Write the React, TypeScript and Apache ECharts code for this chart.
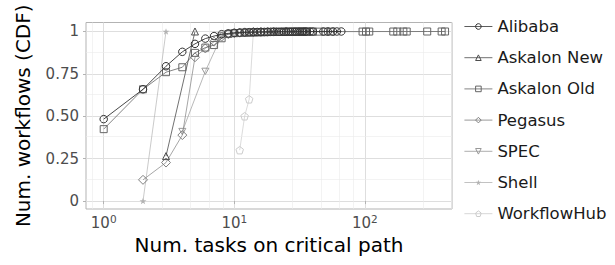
import React, { useEffect, useRef } from "react";
import * as echarts from "echarts";

const seriesNames = ["Alibaba", "Askalon New", "Askalon Old", "Pegasus", "SPEC", "Shell", "WorkflowHub"];
const greys = ["#333333", "#4d4d4d", "#666666", "#808080", "#999999", "#b3b3b3", "#cccccc"];

const alibabaX = [1, 2, 3, 4, 5, 6, 7, 8, 9, 10, 11, 12, 13, 14, 15, 16, 17, 18, 19, 20, 21, 22, 23, 24, 25, 26, 27, 28, 29, 30, 31, 32, 33, 34, 35, 36, 38, 40, 48, 52, 57, 61, 66];
const alibabaY = [0.483, 0.659, 0.795, 0.88, 0.927, 0.958, 0.973, 0.984, 0.989, 0.992, 0.994, 0.995, 0.996, 0.9965, 0.997, 0.9972, 0.9975, 0.9977, 0.998, 0.9982, 0.9984, 0.9985, 0.9986, 0.9987, 0.9988, 0.9989, 0.999, 0.9991, 0.9992, 0.9993, 0.9993, 0.9994, 0.9994, 0.9995, 0.9995, 0.9996, 0.9996, 0.9997, 0.9997, 0.9998, 0.9998, 0.9999, 1];

const askalonNewX = [3, 5];
const askalonNewY = [0.265, 1];

const askalonOldX = [1, 2, 3, 4, 5, 6, 7, 8, 9, 10, 11, 12, 13, 14, 15, 16, 17, 18, 19, 20, 22, 24, 26, 28, 30, 33, 36, 40, 44, 50, 55, 96, 102, 108, 165, 177, 197, 209, 300, 387, 411];
const askalonOldY = [0.424, 0.659, 0.76, 0.789, 0.874, 0.905, 0.92, 0.96, 0.985, 0.99, 0.991, 0.992, 0.993, 0.994, 0.995, 0.9955, 0.996, 0.9965, 0.997, 0.9972, 0.9975, 0.9978, 0.998, 0.9982, 0.9984, 0.9986, 0.9988, 0.999, 0.9991, 0.9992, 0.9993, 0.9994, 0.9995, 0.9996, 0.9997, 0.9997, 0.9998, 0.9998, 0.9999, 0.9999, 1];

const pegasusX = [2, 3, 4, 5, 6, 7, 8, 9, 10, 11, 12, 14, 16, 18, 20, 25];
const pegasusY = [0.125, 0.227, 0.389, 0.848, 0.9, 0.94, 0.97, 0.985, 0.99, 0.993, 0.995, 0.997, 0.998, 0.999, 0.9995, 1];

const specX = [4, 6, 8, 10, 12, 15, 20];
const specY = [0.41, 0.765, 0.975, 0.99, 0.995, 0.998, 1];

const shellX = [2, 3];
const shellY = [0, 1];

const workflowHubX = [11, 12, 13, 14];
const workflowHubY = [0.3, 0.5, 0.6, 1];

const xTickValues = [1, 10, 100];
const xTickExponents = ["0", "1", "2"];
const xMinorGrid = [0.82, 2.8, 4.6, 6.4, 8.2, 28, 46, 64, 82, 280, 460];
const yTickValues = [0, 0.25, 0.5, 0.75, 1];
const yTickLabels = ["0", "0.25", "0.50", "0.75", "1"];
const yMinorGrid = [0.125, 0.375, 0.625, 0.875];

const FONT = "DejaVu Sans";

const symbols = [
  "circle",
  "triangle",
  "rect",
  "diamond",
  "path://M0,0 L10,0 L5,9 Z",
  "path://M5,0 L6.2,3.6 L10,3.6 L6.9,5.8 L8.1,9.5 L5,7.2 L1.9,9.5 L3.1,5.8 L0,3.6 L3.8,3.6 Z",
  "path://M5,0 L10,3.8 L8.1,10 L1.9,10 L0,3.8 Z",
];
const symbolSizes = [7.5, 7, 7, 9, 7, 7, 7.5];
const filled = [false, false, false, false, false, true, false];
const lineWidths = [0.9, 0.8, 0.8, 0.7, 0.7, 0.7, 0.7];

const xs = [alibabaX, askalonNewX, askalonOldX, pegasusX, specX, shellX, workflowHubX];
const ys = [alibabaY, askalonNewY, askalonOldY, pegasusY, specY, shellY, workflowHubY];

function markerStyle(i: number) {
  return filled[i]
    ? { color: greys[i], borderWidth: 0 }
    : { color: "rgba(255,255,255,0)", borderColor: greys[i], borderWidth: 1 };
}

export default function App() {
  const ref = useRef<HTMLDivElement>(null);
  useEffect(() => {
    if (!ref.current) return;
    const chart = echarts.init(ref.current, undefined, { renderer: "svg" });
    const dataSeries = seriesNames.map((name, i) => ({
      name,
      type: "line",
      data: xs[i].map((x, j) => [x, ys[i][j]]),
      symbol: symbols[i],
      symbolSize: symbolSizes[i],
      symbolKeepAspect: true,
      showSymbol: true,
      lineStyle: { color: greys[i], width: lineWidths[i] },
      itemStyle: markerStyle(i),
      z: 10 - i,
    }));
    const gridSeries = {
      name: "__grid",
      type: "line",
      data: [],
      silent: true,
      z: 1,
      markLine: {
        silent: true,
        symbol: ["none", "none"],
        label: { show: false },
        lineStyle: { color: "#ebebeb", width: 0.6, type: "solid" },
        data: [
          ...xMinorGrid.map((v) => ({ xAxis: v })),
          ...yMinorGrid.map((v) => ({ yAxis: v })),
        ],
      },
    };
    chart.setOption({
      animation: false,
      grid: {
        left: 86,
        right: 163,
        top: 22.5,
        bottom: 56,
        show: true,
        borderColor: "#b3b3b3",
        borderWidth: 1,
        backgroundColor: "transparent",
      },
      legend: {
        orient: "vertical",
        left: 464,
        top: 18,
        padding: 0,
        itemWidth: 28,
        itemHeight: 7,
        itemGap: 14.2,
        data: seriesNames.map((name, i) => ({
          name,
          itemStyle: markerStyle(i),
          lineStyle: { color: greys[i], width: 0.8 },
        })),
        textStyle: { fontFamily: FONT, fontSize: 16.5, color: "#1a1a1a", lineHeight: 16 },
      },
      xAxis: {
        type: "log",
        logBase: 10,
        min: 0.732,
        max: 464.5,
        name: "Num. tasks on critical path",
        nameLocation: "middle",
        nameGap: 22,
        nameTextStyle: { fontFamily: FONT, fontSize: 20, color: "#000", verticalAlign: "top" },
        axisLine: { show: false },
        axisTick: { show: true, length: 3, lineStyle: { color: "#b3b3b3" }, customValues: xTickValues },
        axisLabel: {
          customValues: xTickValues,
          margin: 4,
          fontFamily: FONT,
          color: "#4d4d4d",
          formatter: (v: number) => {
            const idx = xTickValues.findIndex((t) => Math.abs(t - v) / t < 1e-6);
            return `{b|10}{s|${xTickExponents[idx]}}`;
          },
          rich: {
            b: { fontFamily: FONT, fontSize: 15, color: "#4d4d4d" },
            s: { fontFamily: FONT, fontSize: 10.5, color: "#4d4d4d", padding: [0, 0, 9, 0] },
          },
        },
        splitLine: { show: true, lineStyle: { color: "#dedede", width: 1 } },
        minorSplitLine: { show: false },
      },
      yAxis: {
        type: "value",
        min: -0.047,
        max: 1.053,
        name: "Num. workflows (CDF)",
        nameLocation: "middle",
        nameGap: 53,
        nameRotate: 90,
        nameTextStyle: { fontFamily: FONT, fontSize: 20, color: "#000" },
        axisLine: { show: false },
        axisTick: { show: true, length: 3, lineStyle: { color: "#b3b3b3" }, customValues: yTickValues },
        axisLabel: {
          customValues: yTickValues,
          margin: 7,
          fontFamily: FONT,
          fontSize: 15,
          color: "#4d4d4d",
          formatter: (v: number) => {
            const idx = yTickValues.findIndex((t) => Math.abs(t - v) < 1e-6);
            return yTickLabels[idx];
          },
        },
        splitLine: { show: true, lineStyle: { color: "#dedede", width: 1 } },
      },
      series: [gridSeries, ...dataSeries],
    });
    return () => chart.dispose();
  }, []);
  return <div ref={ref} style={{ width: 615, height: 265, position: "absolute", left: 0, top: 0 }} />;
}
